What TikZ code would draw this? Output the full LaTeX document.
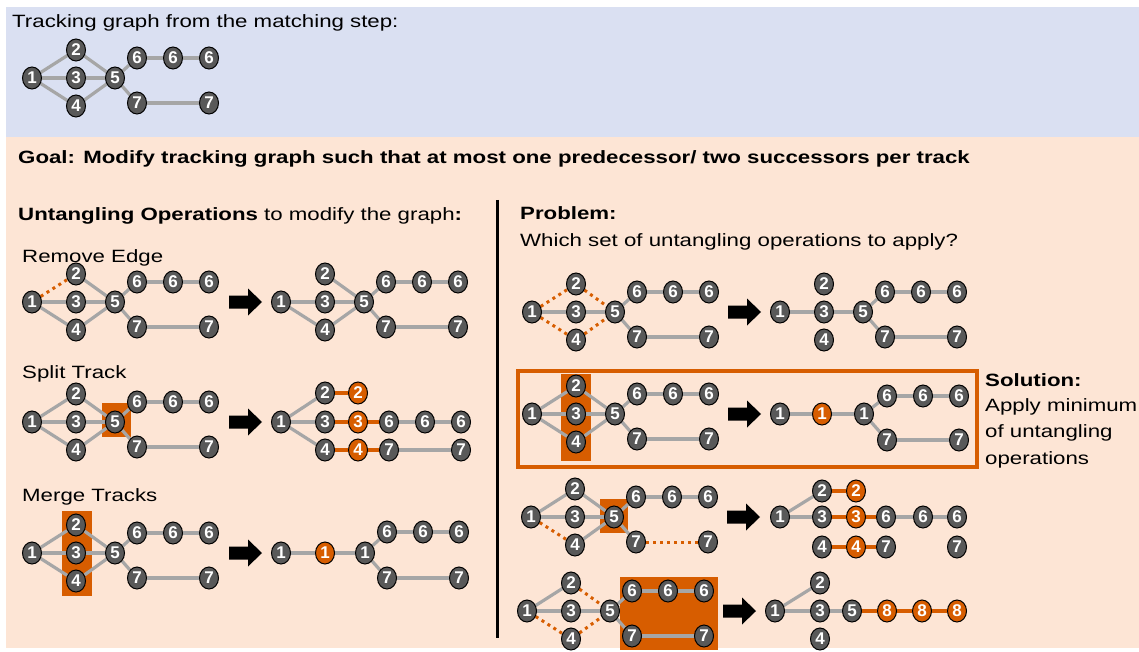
\documentclass[tikz,border=0pt]{standalone}
\usepackage{fontspec}
\setmainfont[FakeStretch=1.25]{Liberation Sans}
\newfontfamily\digitfont{Liberation Sans}
\usetikzlibrary{shapes.geometric}
\definecolor{bluebg}{RGB}{218,224,242}
\definecolor{peachbg}{RGB}{253,229,213}
\definecolor{orng}{RGB}{215,93,0}
\definecolor{nodegray}{RGB}{89,89,89}
\definecolor{edgegray}{RGB}{166,166,166}
\pgfdeclarelayer{bg}
\pgfdeclarelayer{boxes}
\pgfdeclarelayer{edges}
\pgfsetlayers{bg,boxes,edges,main}
\tikzset{
  gn/.style={ellipse, draw=black, line width=1pt, fill=nodegray, text=white,
    font=\digitfont\fontsize{17}{17}\selectfont\bfseries, inner sep=0pt,
    minimum width=19pt, minimum height=22pt},
  on/.style={gn, fill=orng},
  ge/.style={draw=edgegray, line width=3.2pt},
  oe/.style={draw=orng, line width=3.5pt},
  od/.style={draw=orng, line width=3pt, dash pattern=on 3pt off 4pt},
  hl/.style={fill=orng, draw=none},
  txt/.style={anchor=base west, inner sep=0pt, text=black,
    font=\fontsize{17.8}{20}\selectfont},
  btxt/.style={txt, font=\fontsize{17.8}{20}\selectfont\bfseries},
  blockarrow/.pic={\fill[black] (0,-6.5) -- (19,-6.5) -- (19,-13.5) -- (33,0)
    -- (19,13.5) -- (19,6.5) -- (0,6.5) -- cycle;}
}
% nodes of the full tracking graph, node 1 placed at (#2,#3)
\newcommand\srcgraph[3]{%
  \begin{scope}[shift={(#2,#3)}]
    \node[gn] (#1a) at (0,0) {1};
    \node[gn] (#1b) at (44,-28) {2};
    \node[gn] (#1c) at (44,0) {3};
    \node[gn] (#1d) at (44,28) {4};
    \node[gn] (#1e) at (83,0) {5};
    \node[gn] (#1f) at (105,-20) {6};
    \node[gn] (#1g) at (141,-20) {6};
    \node[gn] (#1h) at (177,-20) {6};
    \node[gn] (#1i) at (105,25) {7};
    \node[gn] (#1j) at (177,25) {7};
  \end{scope}}
% edges after node 5: the two tracks 6 and 7
\newcommand\tailedges[1]{%
  \draw[ge] (#1e) -- (#1f); \draw[ge] (#1f) -- (#1g); \draw[ge] (#1g) -- (#1h);
  \draw[ge] (#1e) -- (#1i); \draw[ge] (#1i) -- (#1j);}
% all edges of the tracking graph in gray
\newcommand\alledges[1]{%
  \draw[ge] (#1a) -- (#1b); \draw[ge] (#1a) -- (#1c); \draw[ge] (#1a) -- (#1d);
  \draw[ge] (#1b) -- (#1e); \draw[ge] (#1c) -- (#1e); \draw[ge] (#1d) -- (#1e);
  \tailedges{#1}}
\begin{document}
\begin{tikzpicture}[x=1pt, y=-1pt]
\useasboundingbox (0,0) rectangle (1139,652);
\begin{pgfonlayer}{bg}
  \fill[bluebg] (6,7) rectangle (1139,137);
  \fill[peachbg] (6,137) rectangle (1139,648);
\end{pgfonlayer}

% texts
\node[txt] (title) at (12,28) {Tracking graph from the matching step:};
\node[btxt] (goal) at (18,164) {Goal: Modify tracking graph such that at most one predecessor/ two successors per track};
\node[txt] (ops) at (18,221) {\textbf{Untangling Operations} to modify the graph\textbf{:}};
\node[btxt] (prob) at (520,220) {Problem:};
\node[txt] (which) at (520,247) {Which set of untangling operations to apply?};
\node[txt] (lre) at (22,262) {Remove Edge};
\node[txt] (lst) at (22,378) {Split Track};
\node[txt] (lmt) at (22,501) {Merge Tracks};
\node[btxt] (sol1) at (985,386) {Solution:};
\node[txt] (sol2) at (985,411) {Apply minimum};
\node[txt] (sol3) at (985,437) {of untangling};
\node[txt] (sol4) at (985,464) {operations};

% divider between the two columns
\draw[black, line width=3pt] (497,200) -- (497,638);

% highlighted operations
\begin{pgfonlayer}{boxes}
  \fill[hl] (102,403) rectangle (131,437);
  \fill[hl] (62,511) rectangle (92,596);
  \fill[hl] (561,374) rectangle (591,461);
  \fill[hl] (600,499) rectangle (628,533);
  \fill[hl] (620,577) rectangle (718,650);
  \draw[orng, line width=3.5pt] (518,371) rectangle (977,467);
\end{pgfonlayer}

% transformation arrows
\pic at (229,302) {blockarrow};
\pic at (229,422) {blockarrow};
\pic at (229,553) {blockarrow};
\pic at (728,312) {blockarrow};
\pic at (728,414) {blockarrow};
\pic at (727,517) {blockarrow};
\pic at (723,611) {blockarrow};

% tracking graph from the matching step
\srcgraph{T}{32}{78}
% remove edge
\srcgraph{R}{32}{302}
\srcgraph{RR}{281}{302}
% split track
\srcgraph{S}{32}{422}
\node[gn] (Sa') at (281,422) {1};
\node[gn] (Sb') at (325,393) {2};
\node[on] (Sb'') at (358,393) {2};
\node[gn] (Sc') at (325,422) {3};
\node[on] (Sc'') at (358,422) {3};
\node[gn] (Sf') at (389,422) {6};
\node[gn] (Sg') at (425,422) {6};
\node[gn] (Sh') at (461,422) {6};
\node[gn] (Sd') at (325,450) {4};
\node[on] (Sd'') at (358,450) {4};
\node[gn] (Si') at (389,450) {7};
\node[gn] (Sj') at (461,450) {7};
% merge tracks
\srcgraph{M}{32}{553}
\node[gn] (Ma') at (281,553) {1};
\node[on] (Mm') at (325,553) {1};
\node[gn] (Me') at (365,553) {1};
\node[gn] (Mf') at (387,532) {6};
\node[gn] (Mg') at (423,532) {6};
\node[gn] (Mh') at (459,532) {6};
\node[gn] (Mi') at (387,578) {7};
\node[gn] (Mj') at (459,578) {7};
% candidate A: remove edges
\srcgraph{A}{532}{312}
\srcgraph{AR}{780}{312}
% candidate B: merge tracks (solution)
\srcgraph{B}{532}{414}
\node[gn] (Ba') at (780,414) {1};
\node[on] (Bm') at (822,414) {1};
\node[gn] (Be') at (864,414) {1};
\node[gn] (Bf') at (887,396) {6};
\node[gn] (Bg') at (923,396) {6};
\node[gn] (Bh') at (959,396) {6};
\node[gn] (Bi') at (887,440) {7};
\node[gn] (Bj') at (959,440) {7};
% candidate C: split track and remove edges
\srcgraph{C}{531}{517}
\node[gn] (Ca') at (780,517) {1};
\node[gn] (Cb') at (822,491) {2};
\node[on] (Cb'') at (856,491) {2};
\node[gn] (Cc') at (822,517) {3};
\node[on] (Cc'') at (856,517) {3};
\node[gn] (Cf') at (886,517) {6};
\node[gn] (Cg') at (923,517) {6};
\node[gn] (Ch') at (957,517) {6};
\node[gn] (Cd') at (822,547) {4};
\node[on] (Cd'') at (856,547) {4};
\node[gn] (Ci') at (886,547) {7};
\node[gn] (Cj') at (957,547) {7};
% candidate D: merge the 6 and 7 tracks and remove edges
\srcgraph{D}{527}{611}
\node[gn] (Da') at (775,611) {1};
\node[gn] (Db') at (820,583) {2};
\node[gn] (Dc') at (820,611) {3};
\node[gn] (Dd') at (820,639) {4};
\node[gn] (De') at (852,611) {5};
\node[on] (Dx') at (887,611) {8};
\node[on] (Dy') at (922,611) {8};
\node[on] (Dz') at (957,611) {8};

\begin{pgfonlayer}{edges}
  \alledges{T}
  % remove edge
  \draw[od] (Ra) -- (Rb); \draw[ge] (Ra) -- (Rc); \draw[ge] (Ra) -- (Rd);
  \draw[ge] (Rb) -- (Re); \draw[ge] (Rc) -- (Re); \draw[ge] (Rd) -- (Re);
  \tailedges{R}
  \draw[ge] (RRa) -- (RRc); \draw[ge] (RRa) -- (RRd);
  \draw[ge] (RRb) -- (RRe); \draw[ge] (RRc) -- (RRe); \draw[ge] (RRd) -- (RRe);
  \tailedges{RR}
  % split track
  \alledges{S}
  \draw[ge] (Sa') -- (Sb'); \draw[ge] (Sa') -- (Sc'); \draw[ge] (Sa') -- (Sd');
  \draw[oe] (Sb') -- (Sb'');
  \draw[oe] (Sc') -- (Sc''); \draw[oe] (Sc'') -- (Sf');
  \draw[ge] (Sf') -- (Sg'); \draw[ge] (Sg') -- (Sh');
  \draw[oe] (Sd') -- (Sd''); \draw[oe] (Sd'') -- (Si');
  \draw[ge] (Si') -- (Sj');
  % merge tracks
  \alledges{M}
  \draw[ge] (Ma') -- (Mm'); \draw[ge] (Mm') -- (Me');
  \draw[ge] (Me') -- (Mf'); \draw[ge] (Mf') -- (Mg'); \draw[ge] (Mg') -- (Mh');
  \draw[ge] (Me') -- (Mi'); \draw[ge] (Mi') -- (Mj');
  % candidate A
  \draw[od] (Aa) -- (Ab); \draw[ge] (Aa) -- (Ac); \draw[od] (Aa) -- (Ad);
  \draw[od] (Ab) -- (Ae); \draw[ge] (Ac) -- (Ae); \draw[od] (Ad) -- (Ae);
  \tailedges{A}
  \draw[ge] (ARa) -- (ARc); \draw[ge] (ARc) -- (ARe);
  \tailedges{AR}
  % candidate B
  \alledges{B}
  \draw[ge] (Ba') -- (Bm'); \draw[ge] (Bm') -- (Be');
  \draw[ge] (Be') -- (Bf'); \draw[ge] (Bf') -- (Bg'); \draw[ge] (Bg') -- (Bh');
  \draw[ge] (Be') -- (Bi'); \draw[ge] (Bi') -- (Bj');
  % candidate C
  \draw[ge] (Ca) -- (Cb); \draw[ge] (Ca) -- (Cc); \draw[od] (Ca) -- (Cd);
  \draw[ge] (Cb) -- (Ce); \draw[ge] (Cc) -- (Ce); \draw[ge] (Cd) -- (Ce);
  \draw[ge] (Ce) -- (Cf); \draw[ge] (Cf) -- (Cg); \draw[ge] (Cg) -- (Ch);
  \draw[ge] (Ce) -- (Ci); \draw[od] (Ci) -- (Cj);
  \draw[ge] (Ca') -- (Cb'); \draw[ge] (Ca') -- (Cc');
  \draw[oe] (Cb') -- (Cb'');
  \draw[oe] (Cc') -- (Cc''); \draw[oe] (Cc'') -- (Cf');
  \draw[ge] (Cf') -- (Cg'); \draw[ge] (Cg') -- (Ch');
  \draw[oe] (Cd') -- (Cd''); \draw[oe] (Cd'') -- (Ci');
  % candidate D
  \draw[ge] (Da) -- (Db); \draw[ge] (Da) -- (Dc); \draw[od] (Da) -- (Dd);
  \draw[od] (Db) -- (De); \draw[ge] (Dc) -- (De); \draw[od] (Dd) -- (De);
  \tailedges{D}
  \draw[ge] (Da') -- (Db'); \draw[ge] (Da') -- (Dc'); \draw[ge] (Dc') -- (De');
  \draw[oe] (De') -- (Dx'); \draw[oe] (Dx') -- (Dy'); \draw[oe] (Dy') -- (Dz');
\end{pgfonlayer}
\end{tikzpicture}
\end{document}
